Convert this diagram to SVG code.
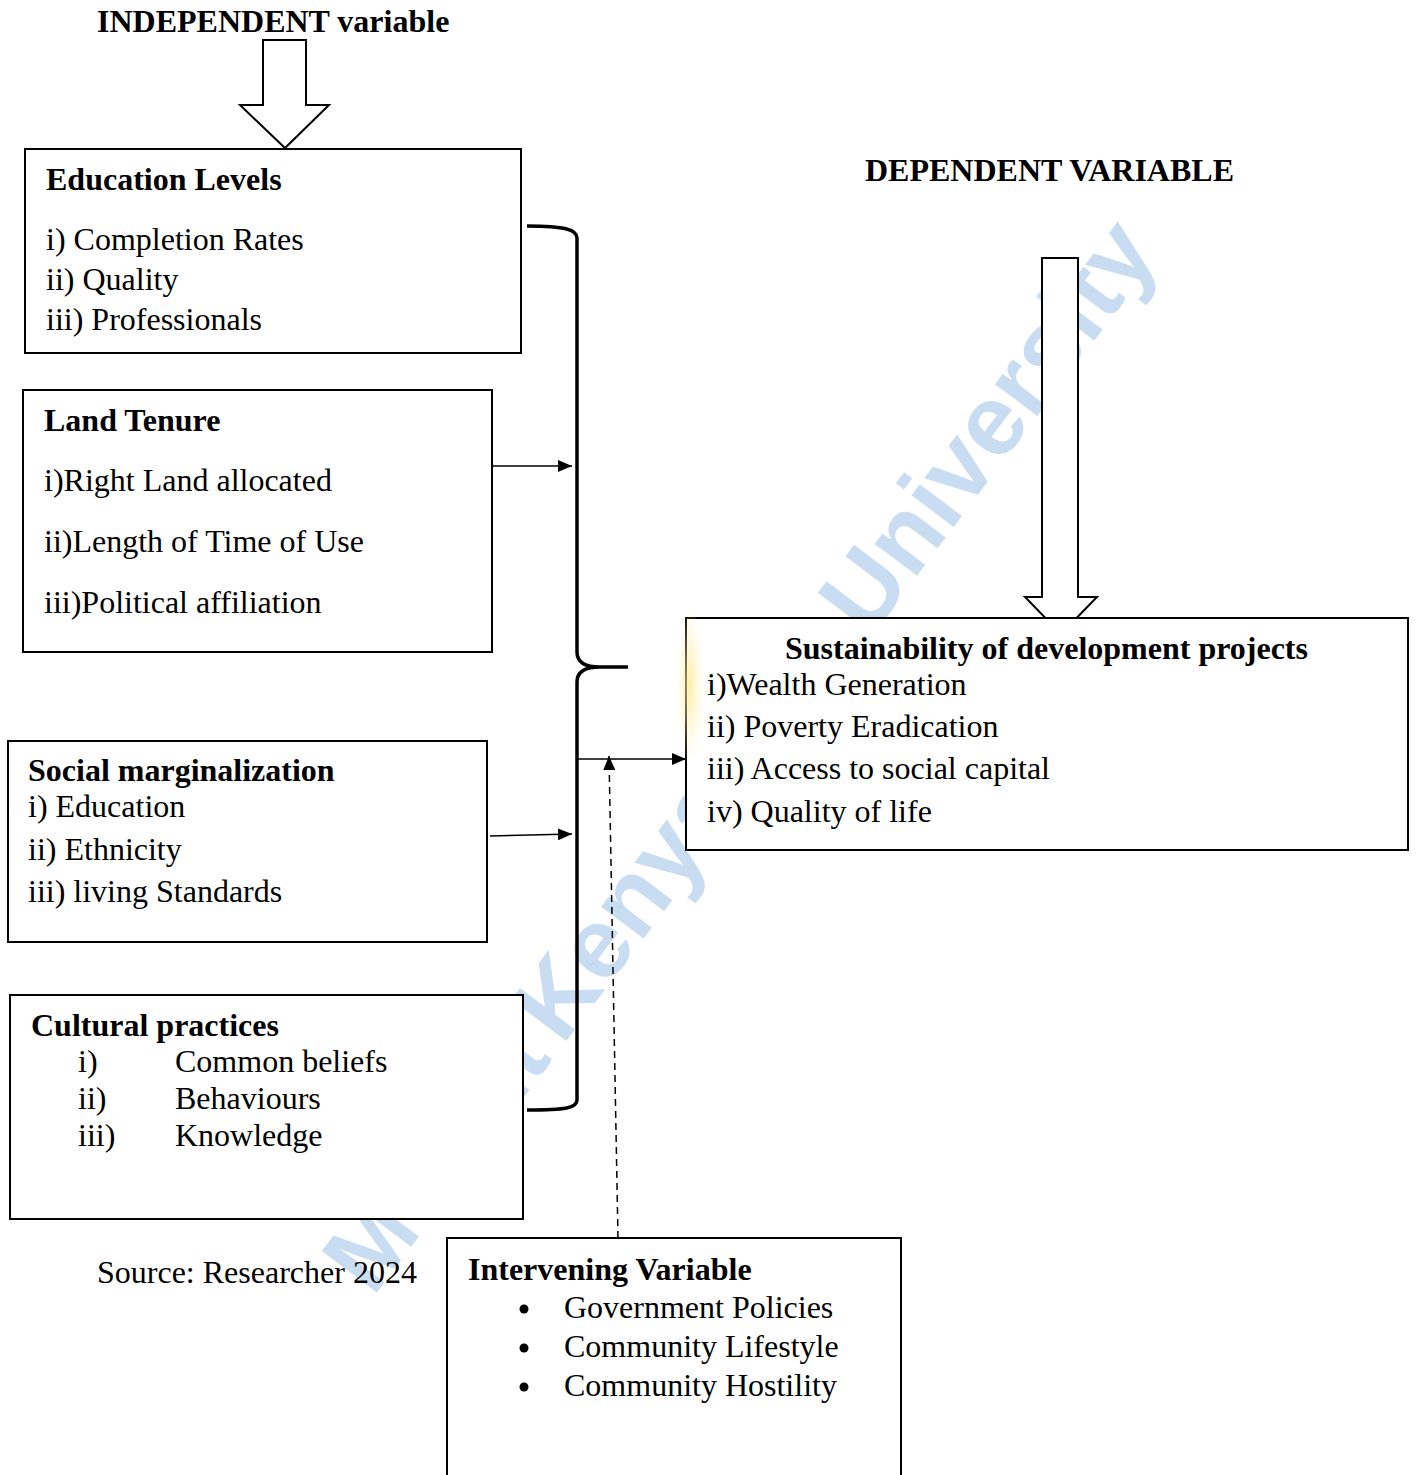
<svg xmlns="http://www.w3.org/2000/svg" width="1416" height="1475" viewBox="0 0 1416 1475">
<style>
.t{font-family:"Liberation Serif","Times New Roman",serif;font-size:32px;fill:#000}
.b{font-weight:bold}
.box{stroke:#000;stroke-width:2;fill:#fff}
.big{stroke:#000;stroke-width:2;fill:#fff;stroke-linejoin:miter}
.ln{stroke:#000;stroke-width:1.5;fill:none}
.wm{font-family:"Liberation Sans",Arial,sans-serif;font-weight:bold;font-size:100px;fill:#c9ddf2}
</style>
<defs>
<marker id="ah" viewBox="0 0 14 12" refX="14" refY="6" markerWidth="14" markerHeight="12" markerUnits="userSpaceOnUse" orient="auto">
<path d="M0,0 L14,6 L0,12 Z" fill="#000"/>
</marker>
<radialGradient id="yg" cx="0.5" cy="0.5" r="0.5">
<stop offset="0" stop-color="#fde98a" stop-opacity="0.75"/>
<stop offset="1" stop-color="#fff6c8" stop-opacity="0"/>
</radialGradient>
</defs>
<rect width="1416" height="1475" fill="#fff"/>
<g id="watermark">
<text class="wm" transform="translate(741,809) rotate(-53)"><tspan x="-612" y="0">Mount</tspan><tspan x="-297" y="0">Kenya</tspan><tspan x="213" y="0">University</tspan></text>
</g>
<g id="independent-label">
<text class="t b" x="97" y="32">INDEPENDENT variable</text>
<polygon class="big" points="263,40 306,40 306,105 329,105 285,148 240,105 263,105"/>
</g>
<g id="dependent-label">
<text class="t b" x="865" y="181">DEPENDENT VARIABLE</text>
<polygon class="big" points="1042,258 1078,258 1078,597 1097,597 1061,634 1025,597 1042,597"/>
</g>
<g id="education-levels">
<rect class="box" x="25" y="149" width="496" height="204"/>
<text class="t b" x="46" y="190">Education Levels</text>
<text class="t" x="46" y="250">i) Completion Rates</text>
<text class="t" x="46" y="290">ii) Quality</text>
<text class="t" x="46" y="330">iii) Professionals</text>
</g>
<g id="land-tenure">
<rect class="box" x="23" y="390" width="469" height="262"/>
<text class="t b" x="44" y="431">Land Tenure</text>
<text class="t" x="44" y="491">i)Right Land allocated</text>
<text class="t" x="44" y="552">ii)Length of Time of Use</text>
<text class="t" x="44" y="613">iii)Political affiliation</text>
</g>
<g id="social-marginalization">
<rect class="box" x="8" y="741" width="479" height="201"/>
<text class="t b" x="28" y="781">Social marginalization</text>
<text class="t" x="28" y="817">i) Education</text>
<text class="t" x="28" y="860">ii) Ethnicity</text>
<text class="t" x="28" y="902">iii) living Standards</text>
</g>
<g id="cultural-practices">
<rect class="box" x="10" y="995" width="513" height="224"/>
<text class="t b" x="31" y="1036">Cultural practices</text>
<text class="t" x="78" y="1072">i)</text>
<text class="t" x="175" y="1072">Common beliefs</text>
<text class="t" x="78" y="1109">ii)</text>
<text class="t" x="175" y="1109">Behaviours</text>
<text class="t" x="78" y="1146">iii)</text>
<text class="t" x="175" y="1146">Knowledge</text>
</g>
<g id="source">
<text class="t" x="97" y="1283">Source: Researcher 2024</text>
</g>
<g id="sustainability">
<rect class="box" x="686" y="618" width="722" height="232"/>
<ellipse cx="690" cy="685" rx="15" ry="80" fill="url(#yg)"/>
<text class="t b" x="785" y="659">Sustainability of development projects</text>
<text class="t" x="707" y="695">i)Wealth Generation</text>
<text class="t" x="707" y="737">ii) Poverty Eradication</text>
<text class="t" x="707" y="779">iii) Access to social capital</text>
<text class="t" x="707" y="822">iv) Quality of life</text>
</g>
<g id="intervening-variable">
<rect class="box" x="447" y="1238" width="454" height="260"/>
<text class="t b" x="468" y="1280">Intervening Variable</text>
<circle cx="524" cy="1309" r="4.5" fill="#000"/>
<text class="t" x="564" y="1318">Government Policies</text>
<circle cx="524" cy="1348" r="4.5" fill="#000"/>
<text class="t" x="564" y="1357">Community Lifestyle</text>
<circle cx="524" cy="1387" r="4.5" fill="#000"/>
<text class="t" x="564" y="1396">Community Hostility</text>
</g>
<g id="connectors">
<path d="M527,226 C566,226 577,230 577,238 L577,652 C577,662 585,667 600,667 L628,667 M600,667 C585,667 577,672 577,682 L577,1100 C577,1108 566,1110 527,1110" fill="none" stroke="#000" stroke-width="3.5"/>
<line class="ln" x1="492" y1="466" x2="572" y2="466" marker-end="url(#ah)"/>
<line class="ln" x1="490" y1="836" x2="572" y2="834" marker-end="url(#ah)"/>
<line class="ln" x1="578" y1="759" x2="686" y2="759" marker-end="url(#ah)"/>
<line class="ln" x1="618" y1="1238" x2="609" y2="756" stroke-dasharray="7,5" marker-end="url(#ah)"/>
</g>
</svg>
